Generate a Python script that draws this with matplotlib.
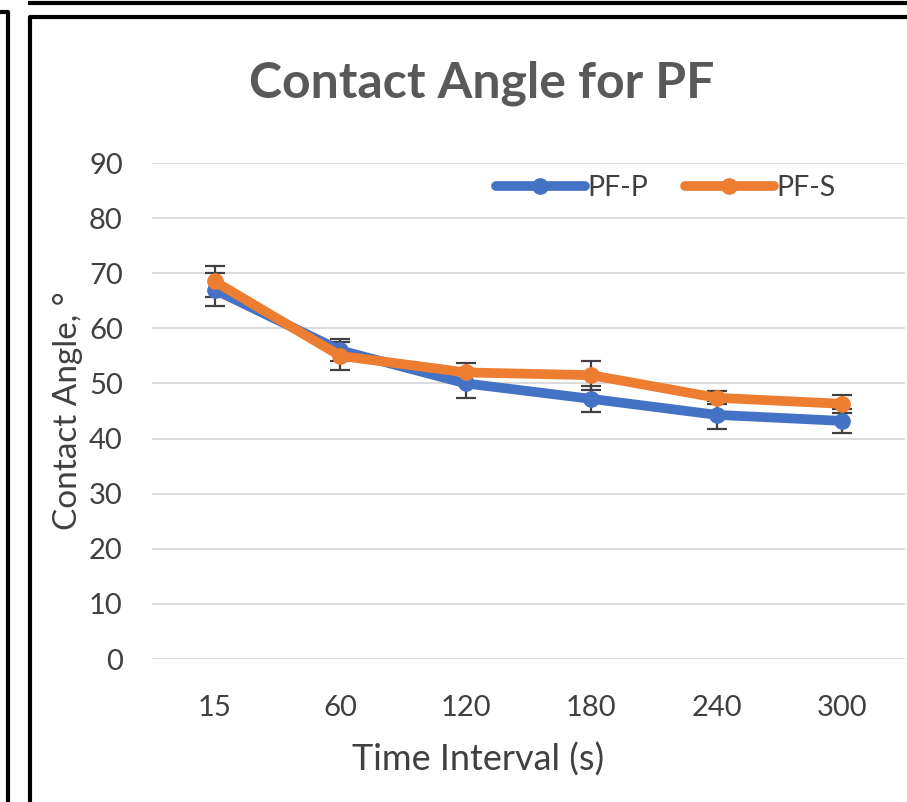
"""Contact angle over time for PF-P and PF-S samples."""

import matplotlib

matplotlib.use("Agg")
import matplotlib.pyplot as plt
from matplotlib.lines import Line2D
import numpy as np

time_labels = ["15", "60", "120", "180", "240", "300"]
pf_p = [67.0, 56.0, 50.0, 47.2, 44.3, 43.2]
pf_p_err = [3.0, 2.0, 2.6, 2.4, 2.6, 2.2]
pf_s = [68.5, 55.0, 52.0, 51.5, 47.4, 46.3]
pf_s_err = [2.8, 2.6, 1.7, 2.6, 1.2, 1.6]
y_ticks = [0, 10, 20, 30, 40, 50, 60, 70, 80, 90]

W, H = 907, 802
plt.rcParams["font.family"] = ["Lato", "DejaVu Sans"]
TEXT = "#595959"
LABEL = "#404040"

fig = plt.figure(figsize=(W / 100, H / 100), dpi=100)
ax = fig.add_axes([152 / W, 1 - 659 / H, 753 / W, 496 / H])

x = np.arange(len(time_labels))
series = [("PF-P", pf_p, pf_p_err, "#4472C4"), ("PF-S", pf_s, pf_s_err, "#ED7D31")]
for name, values, errors, color in series:
    ax.errorbar(x, values, yerr=errors, fmt="none", ecolor="#404040", elinewidth=1.6,
                capsize=7, capthick=1.6, zorder=2)
    ax.plot(x, values, color=color, linewidth=7, marker="o", markersize=11,
            label=name, zorder=3, solid_capstyle="round")

ax.set_xlim(-0.5, len(time_labels) - 0.5)
ax.set_ylim(0, 90)
ax.set_xticks(x, labels=time_labels)
ax.set_yticks(y_ticks)
ax.grid(axis="y", color="#d9d9d9", linewidth=1.3)
ax.set_axisbelow(True)
for spine in ax.spines.values():
    spine.set_visible(False)
ax.tick_params(length=0, labelsize=21, labelcolor=LABEL)
ax.tick_params(axis="x", pad=26)
ax.tick_params(axis="y", pad=21)
ax.set_ylabel("Contact Angle, \u00b0", fontsize=24, color=LABEL, labelpad=4)

# axis title is centred on the chart area, not the plot area
fig.text(478 / W, 1 - 760 / H, "Time Interval (s)", fontsize=26, color=LABEL,
         ha="center", va="center")
fig.text(482 / W, 1 - 83 / H, "Contact Angle for PF", fontsize=36, fontweight="bold",
         color=TEXT, ha="center", va="center")

ax.legend(loc="center left", bbox_to_anchor=(330 / 753, 1 - 25 / 496), ncol=2, frameon=False,
          fontsize=20.5, handlelength=3.1, handletextpad=0.1, borderpad=0, columnspacing=1.3,
          labelcolor=LABEL)

# surrounding frames from the source document
def frame_line(xs, ys):
    fig.add_artist(Line2D([v / W for v in xs], [1 - v / H for v in ys], color="black",
                          linewidth=3, solid_capstyle="butt", transform=fig.transFigure))

frame_line([28, W], [2.5, 2.5])
frame_line([0, 8, 8], [12, 12, H])
frame_line([30, 30, W], [H, 16.5, 16.5])

fig.savefig("out.png", dpi=100)
